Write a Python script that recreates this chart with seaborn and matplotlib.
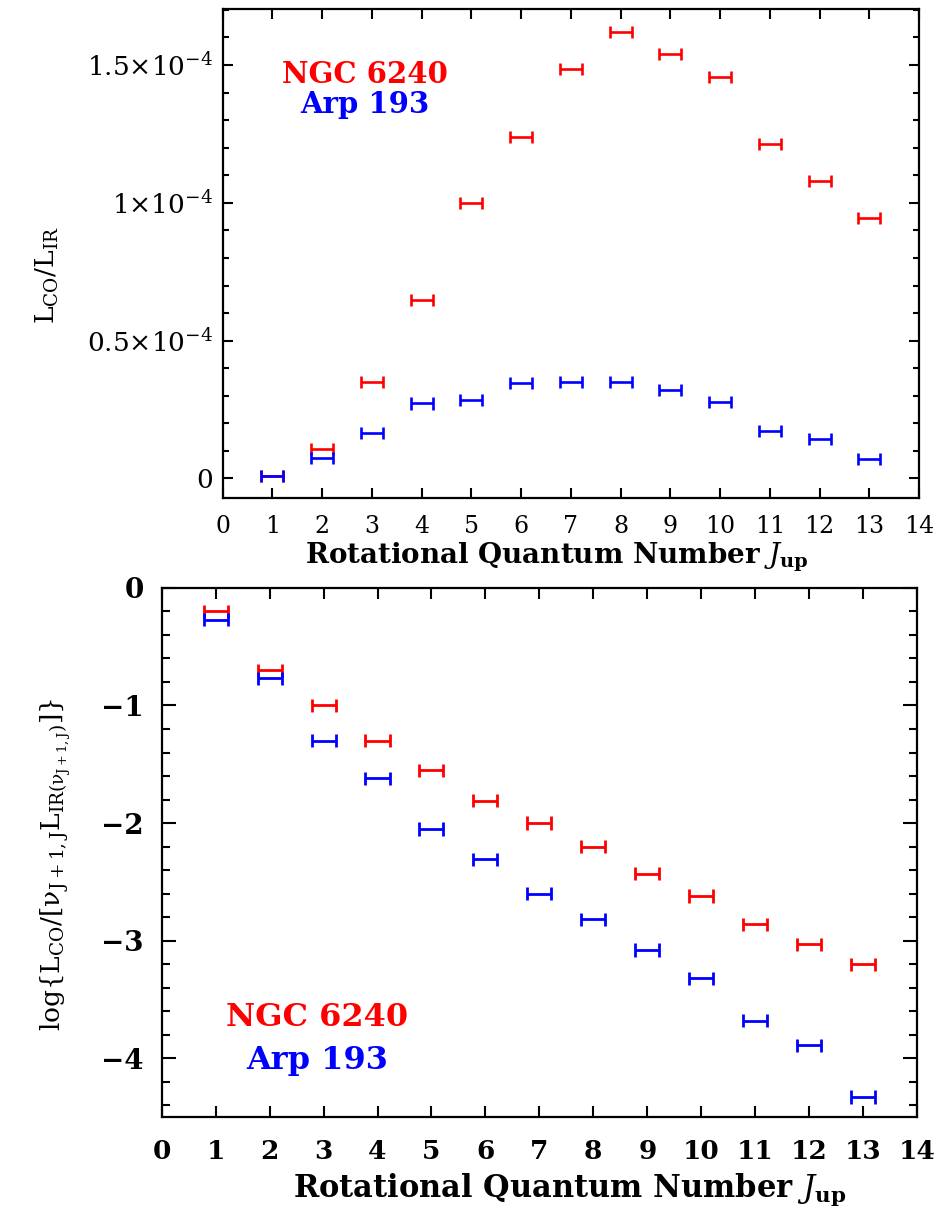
import numpy as np
import pandas as pd
import matplotlib
matplotlib.use('Agg')
import matplotlib.pyplot as plt
from matplotlib.path import Path
from matplotlib.ticker import MultipleLocator
import seaborn as sns

J_UP = list(range(1, 14))
GALAXIES = ['NGC 6240', 'Arp 193']
COLORS = {'NGC 6240': '#ff0000', 'Arp 193': '#0000ff'}

# L_CO / L_IR (top panel)
RATIO_NGC6240 = [0.010e-4, 0.107e-4, 0.350e-4, 0.647e-4, 1.000e-4, 1.240e-4, 1.484e-4,
                 1.620e-4, 1.539e-4, 1.457e-4, 1.213e-4, 1.079e-4, 0.945e-4]
RATIO_ARP193 = [0.008e-4, 0.075e-4, 0.165e-4, 0.272e-4, 0.285e-4, 0.346e-4, 0.350e-4,
                0.350e-4, 0.322e-4, 0.279e-4, 0.172e-4, 0.143e-4, 0.069e-4]

# log{L_CO / [nu L_IR(nu)]} (bottom panel)
LOG_NGC6240 = [-0.20, -0.70, -1.00, -1.30, -1.55, -1.81, -2.00,
               -2.20, -2.43, -2.62, -2.86, -3.03, -3.20]
LOG_ARP193 = [-0.27, -0.77, -1.30, -1.62, -2.05, -2.31, -2.60,
              -2.82, -3.08, -3.32, -3.68, -3.89, -4.33]

X_TICKS = list(range(0, 15))
X_TICK_LABELS = [str(v) for v in X_TICKS]
TOP_Y_TICKS = [0, 0.5e-4, 1e-4, 1.5e-4]
TOP_Y_LABELS = ['0', r'$0.5{\times}10^{-4}$', r'$1{\times}10^{-4}$', r'$1.5{\times}10^{-4}$']
BOT_Y_TICKS = [0, -1, -2, -3, -4]
BOT_Y_LABELS = ['0', '\u22121', '\u22122', '\u22123', '\u22124']

XLABEL = r'Rotational Quantum Number $J_{\mathbf{up}}$'
TOP_YLABEL = r'$\mathrm{L_{CO}/L_{IR}}$'
BOT_YLABEL = r'$\mathrm{log\{L_{CO}/[\nu_{J+1,J}L_{IR(\nu_{J+1,J})}]\}}$'


def long_frame(ngc, arp):
    return pd.DataFrame({
        'J': J_UP + J_UP,
        'value': list(ngc) + list(arp),
        'galaxy': [GALAXIES[0]] * len(J_UP) + [GALAXIES[1]] * len(J_UP),
    })


def bar_marker(cap=0.55):
    # horizontal bar with end caps, like an x error bar
    verts = [(-1, 0), (1, 0), (-1, -cap), (-1, cap), (1, -cap), (1, cap)]
    codes = [Path.MOVETO, Path.LINETO] * 3
    return Path(verts, codes)


def style_axes(ax, ylen_major, ylen_minor, xlen):
    for side in ax.spines.values():
        side.set_linewidth(1.6)
        side.set_color('black')
    ax.tick_params(which='both', direction='in', top=True, right=True,
                   width=1.5, colors='black')
    ax.tick_params(axis='y', which='major', length=ylen_major)
    ax.tick_params(axis='y', which='minor', length=ylen_minor)
    ax.tick_params(axis='x', which='major', length=xlen)
    ax.tick_params(axis='x', which='minor', bottom=False, top=False)


sns.set_theme(style='ticks')
plt.rcParams['font.family'] = ['DejaVu Serif']
plt.rcParams['mathtext.fontset'] = 'dejavuserif'
plt.rcParams['text.color'] = 'black'
plt.rcParams['axes.labelcolor'] = 'black'

fig = plt.figure(figsize=(9.45, 12.1), dpi=100)
ax1 = fig.add_axes([0.2357, 0.5884, 0.7368, 0.4041])
ax2 = fig.add_axes([0.1711, 0.0769, 0.7993, 0.4372])

marker = bar_marker()

# ─── Top panel ──────────────────────────────────────────────────────────
top = long_frame(RATIO_NGC6240, RATIO_ARP193)
sns.scatterplot(data=top, x='J', y='value', hue='galaxy', palette=COLORS,
                marker=marker, s=250, edgecolor='face', linewidth=1.9,
                legend=False, ax=ax1)
ax1.set_xlim(0, 14)
ax1.set_ylim(-0.071e-4, 1.703e-4)
ax1.set_xticks(X_TICKS)
ax1.set_xticklabels(X_TICK_LABELS, fontsize=17)
ax1.set_yticks(TOP_Y_TICKS)
ax1.set_yticklabels(TOP_Y_LABELS, fontsize=19)
ax1.yaxis.set_minor_locator(MultipleLocator(0.1e-4))
style_axes(ax1, 7.5, 4.5, 7.2)
ax1.tick_params(axis='x', pad=12)
ax1.tick_params(axis='y', pad=7)
ax1.set_xlabel(XLABEL, fontsize=20, fontweight='bold')
ax1.xaxis.set_label_coords(0.48, -0.088)
ax1.set_ylabel(TOP_YLABEL, fontsize=19)
ax1.yaxis.set_label_coords(-0.232, 0.456)
ax1.text(2.86, 1.466e-4, 'NGC 6240', color=COLORS['NGC 6240'], fontsize=21,
         fontweight='bold', ha='center', va='center')
ax1.text(2.86, 1.356e-4, 'Arp 193', color=COLORS['Arp 193'], fontsize=21,
         fontweight='bold', ha='center', va='center')

# ─── Bottom panel ───────────────────────────────────────────────────────
bot = long_frame(LOG_NGC6240, LOG_ARP193)
sns.scatterplot(data=bot, x='J', y='value', hue='galaxy', palette=COLORS,
                marker=marker, s=300, edgecolor='face', linewidth=2.0,
                legend=False, ax=ax2)
ax2.set_xlim(0, 14)
ax2.set_ylim(-4.5, 0)
ax2.set_xticks(X_TICKS)
ax2.set_xticklabels(X_TICK_LABELS, fontsize=19, fontweight='bold')
ax2.set_yticks(BOT_Y_TICKS)
ax2.set_yticklabels(BOT_Y_LABELS, fontsize=20, fontweight='bold')
ax2.yaxis.set_minor_locator(MultipleLocator(0.2))
style_axes(ax2, 10, 6, 8)
ax2.tick_params(axis='x', pad=16)
ax2.tick_params(axis='y', pad=13)
ax2.set_xlabel(XLABEL, fontsize=22, fontweight='bold')
ax2.xaxis.set_label_coords(0.54, -0.103)
ax2.set_ylabel(BOT_YLABEL, fontsize=19)
ax2.yaxis.set_label_coords(-0.117, 0.478)
ax2.text(2.88, -3.655, 'NGC 6240', color=COLORS['NGC 6240'], fontsize=23,
         fontweight='bold', ha='center', va='center')
ax2.text(2.88, -4.02, 'Arp 193', color=COLORS['Arp 193'], fontsize=23,
         fontweight='bold', ha='center', va='center')

fig.savefig('out.png', dpi=100)
plt.close(fig)
